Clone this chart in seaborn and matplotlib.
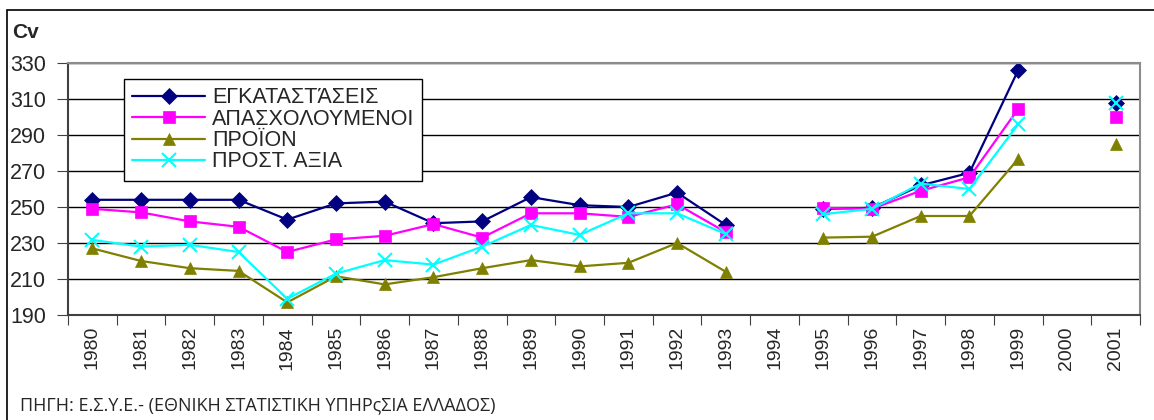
import numpy as np
import pandas as pd
import matplotlib
matplotlib.use("Agg")
import matplotlib.pyplot as plt
from matplotlib.patches import Rectangle
import seaborn as sns

years = ["1980", "1981", "1982", "1983", "1984", "1985", "1986", "1987", "1988",
         "1989", "1990", "1991", "1992", "1993", "1994", "1995", "1996", "1997",
         "1998", "1999", "2000", "2001"]
nan = np.nan
egkatastaseis = [254, 254, 254, 254, 243, 252, 253, 241, 242, 255.5, 251, 250, 258, 240,
                 nan, 249, 249.5, 262, 269, 326, nan, 308]
apasxoloumenoi = [249, 247, 242, 239, 225, 232, 234, 240.5, 233, 246.5, 246.5, 244.5, 251.5, 236,
                  nan, 249.5, 249, 259, 266.5, 304.5, nan, 300]
proion = [227, 220, 216, 214.5, 197, 211.5, 207, 211, 216, 220.5, 217, 219, 230, 214,
          nan, 233, 233.5, 245, 245, 276.7, nan, 285]
prost_axia = [231.7, 228, 229, 225, 199, 213, 220.5, 218, 228, 240, 234.5, 246.5, 246.5, 235,
              nan, 246, 249, 263, 260, 296, nan, 308]

series_names = ["ΕΓΚΑΤΑΣΤΆΣΕΙΣ", "ΑΠΑΣΧΟΛΟΥΜΕΝΟΙ", "ΠΡΟΪΟΝ", "ΠΡΟΣΤ. ΑΞΙΑ"]
series_values = [egkatastaseis, apasxoloumenoi, proion, prost_axia]
colors = ["#000080", "#FF00FF", "#808000", "#00FFFF"]
markers = ["D", "s", "^", "x"]

sns.set_style("white")
plt.rcParams["font.family"] = ["Liberation Sans", "DejaVu Sans"]

fig = plt.figure(figsize=(11.54, 4.2), dpi=100)
ax = fig.add_axes([68 / 1154, 1 - 315 / 420, (1140 - 68) / 1154, (315 - 63) / 420])

pos = np.arange(len(years))
for name, vals, col, mk in zip(series_names, series_values, colors, markers):
    df = pd.DataFrame({"x": pos, "y": vals})
    # split into runs so gaps (1994, 2000) break the line
    df["seg"] = df["y"].isna().cumsum()
    df = df.dropna()
    first = True
    for _, part in df.groupby("seg"):
        sns.lineplot(data=part, x="x", y="y", ax=ax, color=col, marker=mk,
                     markersize=8.5 if mk != "x" else 10, markeredgewidth=1.5 if mk == "x" else 0.5,
                     markeredgecolor=col, linewidth=1.6,
                     label=name if first else None, legend=False)
        first = False

ax.set_xlim(-0.5, len(years) - 0.5)
ax.set_ylim(190, 330)
ax.set_yticks(np.arange(190, 331, 20))
ax.yaxis.grid(True, color="black", linewidth=1)
ax.xaxis.grid(False)

ax.set_xticks(np.arange(-0.5, len(years), 1))
ax.set_xticklabels([])
ax.set_xticks(pos, minor=True)
ax.set_xticklabels(years, minor=True, rotation=90, fontsize=14)
ax.tick_params(axis="x", which="major", direction="out", length=7, color="#404040", bottom=True)
ax.tick_params(axis="x", which="minor", length=0, pad=8)
ax.tick_params(axis="y", direction="out", length=8, color="#404040", left=True, labelsize=15.5, pad=8)
ax.set_xlabel("")
ax.set_ylabel("")

for side in ["left", "bottom"]:
    ax.spines[side].set_color("#404040")
    ax.spines[side].set_linewidth(1.5)
for side in ["top", "right"]:
    ax.spines[side].set_visible(True)
    ax.spines[side].set_color("#8c8c8c")
    ax.spines[side].set_linewidth(1.5)

leg = ax.legend(loc="upper left", bbox_to_anchor=(0.0522, 0.9365), fontsize=15.5,
                frameon=True, fancybox=False, edgecolor="black", framealpha=1,
                handlelength=3.4, handletextpad=0.3, labelspacing=0.02,
                borderpad=0.38, borderaxespad=0)
leg.get_frame().set_linewidth(1)

fig.text(12 / 1154, 1 - 33 / 420, "Cv", fontsize=15, fontweight="bold", va="center", ha="left")
fig.text(20 / 1154, 1 - 405 / 420, "ΠΗΓΗ: Ε.Σ.Υ.Ε.- (ΕΘΝΙΚΗ ΣΤΑΤΙΣΤΙΚΗ ΥΠΗΡςΣΙΑ ΕΛΛΑΔΟΣ)",
         fontsize=13, va="center", ha="left", family=["Open Sans", "DejaVu Sans"])

fig.patches.append(Rectangle((7 / 1154, -0.2), 1.5, 1.2 - 10 / 420, transform=fig.transFigure,
                             fill=False, edgecolor="black", linewidth=1.2))

fig.savefig("out.png", dpi=100)
